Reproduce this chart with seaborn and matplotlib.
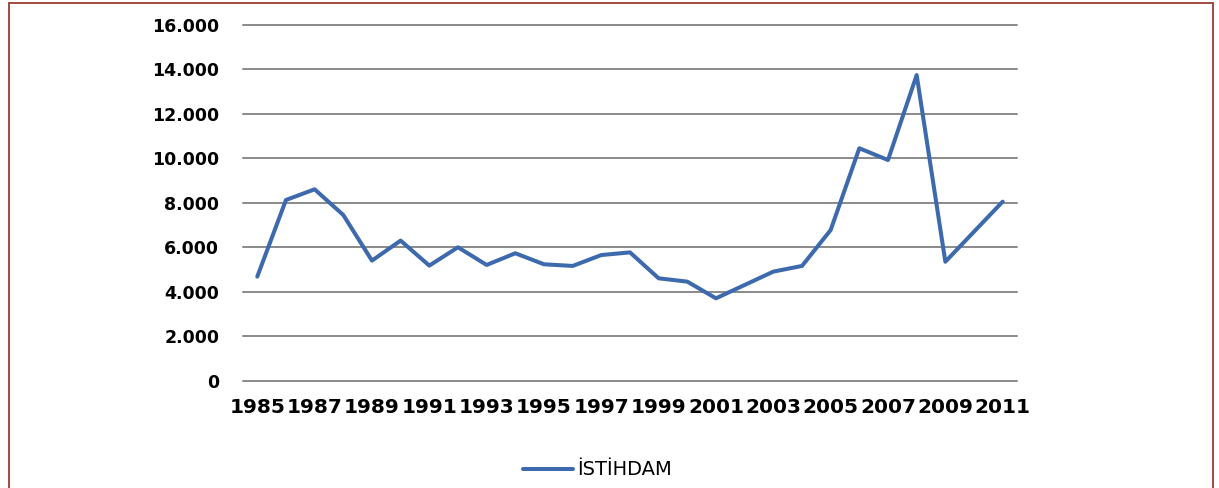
import matplotlib
matplotlib.use("Agg")
import matplotlib.pyplot as plt
from matplotlib.patches import Rectangle
from matplotlib.ticker import FuncFormatter
import seaborn as sns
import pandas as pd

# yearly employment values
years = list(range(1985, 2012))
istihdam = [4690, 8135, 8615, 7460, 5410, 6310, 5185, 6010, 5215, 5740,
            5245, 5170, 5660, 5780, 4615, 4465, 3715, 4315, 4915, 5170,
            6785, 10460, 9930, 13750, 5360, 6710, 8060]
series_name = "İSTİHDAM"

df = pd.DataFrame({"year": years, "value": istihdam})

sns.set_style("white")
plt.rcParams["font.family"] = ["DejaVu Sans"]
plt.rcParams["text.color"] = "black"
plt.rcParams["xtick.color"] = "black"
plt.rcParams["ytick.color"] = "black"

fig = plt.figure(figsize=(12.19, 4.88), dpi=100)
ax = fig.add_axes([0.1993, 0.2193, 0.635, 0.7295])

sns.lineplot(data=df, x="year", y="value", ax=ax, color="#3d6aad",
             linewidth=2.9, label=series_name, legend=False)

ax.set_xlim(1984.5, 2011.5)
ax.set_ylim(0, 16000)
ax.set_yticks(range(0, 16001, 2000))
ax.set_xticks(years[::2])
ax.yaxis.set_major_formatter(FuncFormatter(lambda v, p: f"{int(v):,}".replace(",", ".")))
ax.grid(axis="y", color="#8a8a8a", linewidth=1.4)
for gl in ax.get_ygridlines():
    gl.set_clip_on(False)
ax.set_axisbelow(True)
for s in ax.spines.values():
    s.set_visible(False)
ax.tick_params(axis="y", length=0, pad=17, labelsize=12.5, labelcolor="black")
ax.tick_params(axis="x", length=0, pad=12, labelsize=14.5, labelcolor="black")
for lbl in ax.get_xticklabels() + ax.get_yticklabels():
    lbl.set_fontweight("bold")
ax.set_xlabel("")
ax.set_ylabel("")

handles, labels = ax.get_legend_handles_labels()
leg = fig.legend(handles, labels, loc="center", bbox_to_anchor=(0.49, 0.037),
                 frameon=False, fontsize=14, handlelength=2.6, handletextpad=0.2)
for t in leg.get_texts():
    t.set_color("black")

# dark red frame around the figure (bottom edge cut off)
fig.patches.append(Rectangle((9 / 1219, -0.05), (1213 - 9) / 1219, 1.05 - 3 / 488,
                             transform=fig.transFigure, fill=False,
                             edgecolor="#9b3b32", linewidth=1.3))

fig.savefig("out.png", dpi=100)
